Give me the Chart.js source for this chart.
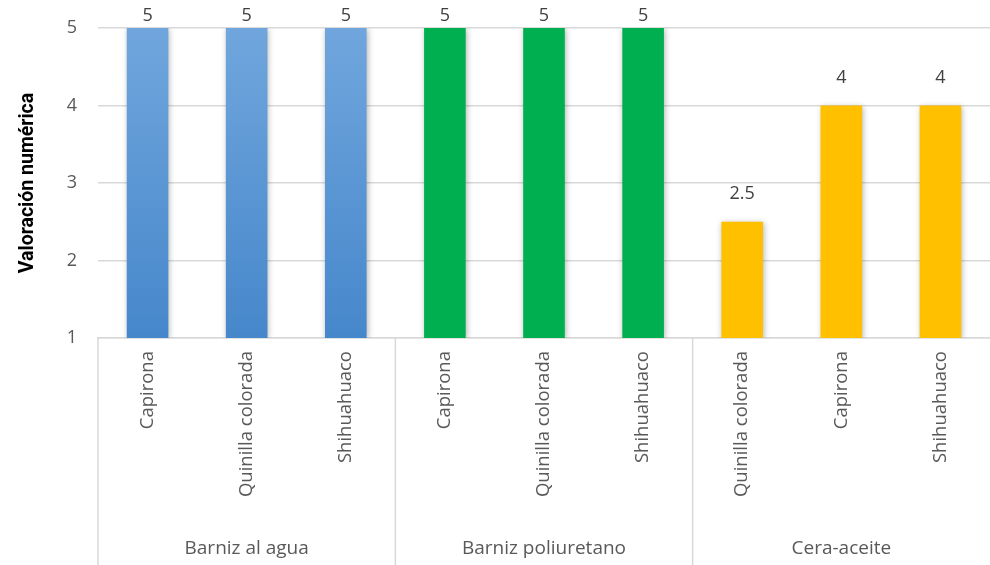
<!DOCTYPE html>
<html>
<head>
<meta charset="utf-8">
<script src="https://cdn.jsdelivr.net/npm/chart.js@4.4.0/dist/chart.umd.min.js"></script>
<style>
  html, body { margin: 0; padding: 0; background: #fff; }
  #wrap { width: 990px; height: 565px; }
</style>
</head>
<body>
<div id="wrap"><canvas id="chart" width="990" height="565"></canvas></div>
<script>
// Data
const woods = ['Capirona', 'Quinilla colorada', 'Shihuahuaco',
               'Capirona', 'Quinilla colorada', 'Shihuahuaco',
               'Quinilla colorada', 'Capirona', 'Shihuahuaco'];
const finishes = ['Barniz al agua', 'Barniz poliuretano', 'Cera-aceite'];
const finishOf = [0, 0, 0, 1, 1, 1, 2, 2, 2];
const scores = [5, 5, 5, 5, 5, 5, 2.5, 4, 4];
const yTicks = [1, 2, 3, 4, 5];

const textFont = '"Open Sans", "Noto Sans", sans-serif';

function barColor(ctx) {
    const i = ctx.dataIndex;
    const g = finishOf[i];
    if (g === 1) return '#00b050';
    if (g === 2) return '#ffc000';
    const area = ctx.chart.chartArea;
    if (!area) return '#5b9bd5';
    const grad = ctx.chart.ctx.createLinearGradient(0, area.top, 0, area.bottom);
    grad.addColorStop(0, '#70a6dd');
    grad.addColorStop(1, '#4687cb');
    return grad;
}

// value labels above each bar
const valueLabels = {
    id: 'valueLabels',
    afterDatasetsDraw(chart) {
        const ctx = chart.ctx;
        const meta = chart.getDatasetMeta(0);
        ctx.save();
        ctx.font = '18px ' + textFont;
        ctx.fillStyle = '#404040';
        ctx.textAlign = 'center';
        ctx.textBaseline = 'middle';
        meta.data.forEach((bar, i) => {
            let y = bar.y - 28;
            if (y < 16) y = 16;
            ctx.fillText(String(scores[i]), bar.x, y);
        });
        ctx.restore();
    }
};

// group labels and separators under the category labels
const groupAxis = {
    id: 'groupAxis',
    afterDraw(chart) {
        const ctx = chart.ctx;
        const x = chart.scales.x;
        const top = chart.chartArea.bottom;
        const bottom = chart.height;
        const half = (x.getPixelForValue(1) - x.getPixelForValue(0)) / 2;
        ctx.save();
        ctx.strokeStyle = '#d9d9d9';
        ctx.lineWidth = 1.5;
        ctx.font = '19px ' + textFont;
        ctx.fillStyle = '#595959';
        ctx.textAlign = 'center';
        ctx.textBaseline = 'middle';
        finishes.forEach((name, g) => {
            const idx = finishOf.map((f, i) => f === g ? i : -1).filter(i => i >= 0);
            const left = x.getPixelForValue(idx[0]) - half;
            const right = x.getPixelForValue(idx[idx.length - 1]) + half;
            ctx.beginPath();
            ctx.moveTo(left, top);
            ctx.lineTo(left, bottom);
            ctx.stroke();
            ctx.fillText(name, (left + right) / 2, 549);
        });
        ctx.restore();
    }
};

// soft shadow on the bars
const barShadow = {
    id: 'barShadow',
    beforeDatasetsDraw(chart) {
        const ctx = chart.ctx;
        ctx.save();
        ctx.shadowColor = 'rgba(0,0,0,0.3)';
        ctx.shadowBlur = 6;
        ctx.shadowOffsetX = 1;
        ctx.shadowOffsetY = 1;
    },
    afterDatasetsDraw(chart) {
        chart.ctx.restore();
    }
};

new Chart(document.getElementById('chart'), {
    type: 'bar',
    data: {
        labels: woods,
        datasets: [{
            data: scores.map(v => [1, v]),
            backgroundColor: barColor,
            borderWidth: 0,
            barPercentage: 0.42,
            categoryPercentage: 1.0
        }]
    },
    options: {
        responsive: false,
        animation: false,
        layout: { padding: { top: 28, right: 0, left: 16, bottom: 0 } },
        plugins: {
            legend: { display: false },
            tooltip: { enabled: false }
        },
        scales: {
            x: {
                grid: { display: false, drawTicks: false },
                border: { display: true, color: '#d9d9d9', width: 1.5 },
                ticks: {
                    color: '#595959',
                    font: { family: textFont, size: 18.5 },
                    minRotation: 90,
                    maxRotation: 90,
                    padding: 13,
                    autoSkip: false
                },
                afterFit(scale) { scale.height = 227; }
            },
            y: {
                min: 1,
                max: 5,
                afterBuildTicks(scale) { scale.ticks = yTicks.map(v => ({ value: v })); },
                grid: { color: '#d9d9d9', lineWidth: 1.5, drawTicks: false },
                border: { display: false },
                ticks: {
                    color: '#595959',
                    font: { family: textFont, size: 18 },
                    padding: 21
                },
                title: {
                    display: true,
                    text: 'Valoración numérica',
                    color: '#000000',
                    font: { family: 'Roboto, ' + textFont, size: 19.5, weight: 'bold' },
                    padding: { top: 0, bottom: 0 }
                },
                afterFit(scale) {
                    scale.width = 82;
                    scale.paddingTop = 0;
                    scale.paddingBottom = 0;
                }
            }
        }
    },
    plugins: [barShadow, valueLabels, groupAxis]
});
</script>
</body>
</html>
